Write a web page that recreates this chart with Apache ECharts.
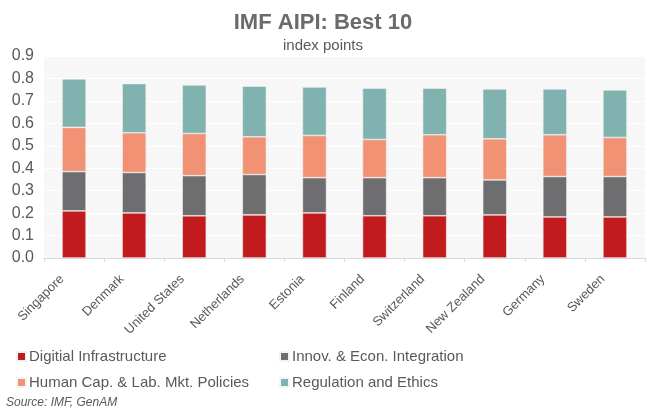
<!DOCTYPE html>
<html>
<head>
<meta charset="utf-8">
<script src="https://cdn.jsdelivr.net/npm/echarts@6/dist/echarts.min.js"></script>
<style>
    html, body { margin: 0; padding: 0; background: #fff; }
    #chart { width: 646px; height: 411px; }
</style>
</head>
<body>
<div id="chart"></div>
<script>
    // countries, best 10 of the IMF AI preparedness index
    const countries = ['Singapore', 'Denmark', 'United States', 'Netherlands', 'Estonia',
        'Finland', 'Switzerland', 'New Zealand', 'Germany', 'Sweden'];
    // sub-index contributions
    const digitalInfra = [0.210, 0.201, 0.188, 0.192, 0.201, 0.188, 0.188, 0.192, 0.183, 0.183];
    const innovEcon = [0.175, 0.180, 0.179, 0.180, 0.157, 0.170, 0.170, 0.156, 0.180, 0.180];
    const humanCap = [0.197, 0.177, 0.188, 0.168, 0.188, 0.170, 0.191, 0.183, 0.186, 0.174];
    const regulation = [0.216, 0.219, 0.216, 0.226, 0.216, 0.229, 0.208, 0.222, 0.204, 0.212];
    const seriesNames = ['Digitial Infrastructure', 'Innov. & Econ. Integration',
        'Human Cap. & Lab. Mkt. Policies', 'Regulation and Ethics'];
    const colors = ['#c21b1e', '#6e6e70', '#f29274', '#80b3b0'];

    const font = 'Arial, "Liberation Sans", sans-serif';
    const chart = echarts.init(document.getElementById('chart'));

    const values = [digitalInfra, innovEcon, humanCap, regulation];
    const series = values.map((data, i) => ({
        name: seriesNames[i],
        type: 'bar',
        stack: 'total',
        barWidth: '40%',
        data: data,
        itemStyle: { color: colors[i], borderColor: '#f4f4f4', borderWidth: 0.6 },
        emphasis: { disabled: true }
    }));

    const legendText = { fontSize: 15, color: '#595959', fontFamily: font, padding: [0, 0, 0, -2] };

    chart.setOption({
        animation: false,
        textStyle: { fontFamily: font },
        title: {
            text: 'IMF AIPI: Best 10',
            subtext: 'index points',
            left: 'center',
            top: 7,
            itemGap: 4,
            textStyle: { fontSize: 22, fontWeight: 'bold', color: '#6b6b6b', fontFamily: font },
            subtextStyle: { fontSize: 15, color: '#595959', fontFamily: font }
        },
        legend: [{
            left: 11,
            top: 344,
            orient: 'vertical',
            itemGap: 11,
            itemWidth: 9,
            itemHeight: 9,
            icon: 'rect',
            data: [seriesNames[0], seriesNames[2]],
            textStyle: legendText
        }, {
            left: 274,
            top: 344,
            orient: 'vertical',
            itemGap: 11,
            itemWidth: 9,
            itemHeight: 9,
            icon: 'rect',
            data: [seriesNames[1], seriesNames[3]],
            textStyle: legendText
        }],
        graphic: [{
            type: 'text',
            left: 6,
            top: 397,
            style: {
                text: 'Source: IMF, GenAM',
                font: 'italic 12px ' + font,
                fill: '#595959'
            }
        }],
        grid: {
            left: 44,
            right: 1,
            top: 56,
            bottom: 153,
            show: true,
            backgroundColor: '#f7f7f7',
            borderWidth: 0
        },
        xAxis: {
            type: 'category',
            data: countries,
            axisLine: { lineStyle: { color: '#d9d9d9', width: 1 } },
            axisTick: { show: true, length: 4, lineStyle: { color: '#d9d9d9' } },
            axisLabel: {
                rotate: 45,
                margin: 7,
                fontSize: 13,
                color: '#595959',
                interval: 0,
                padding: [0, 17, 0, 0]
            }
        },
        yAxis: {
            type: 'value',
            min: 0,
            max: 0.9,
            interval: 0.1,
            axisLine: { show: false },
            axisTick: { show: false },
            splitLine: { lineStyle: { color: '#ffffff', width: 1 } },
            axisLabel: {
                fontSize: 16,
                color: '#595959',
                margin: 10,
                formatter: v => v.toFixed(1)
            }
        },
        series: series
    });
</script>
</body>
</html>
